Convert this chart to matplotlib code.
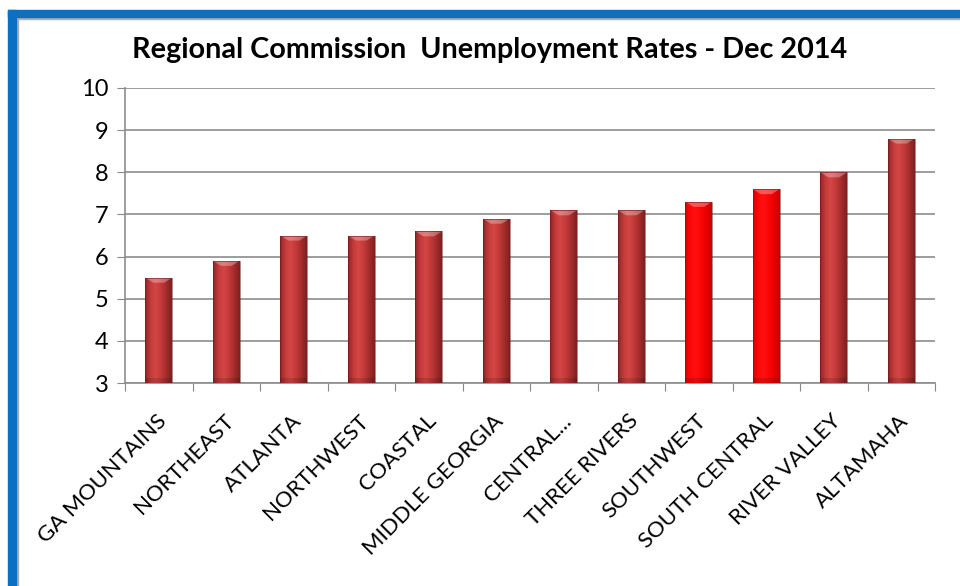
#!/usr/bin/env python3
# -*- coding: utf-8 -*-
"""
Regional Commission unemployment rates, Dec 2014 - bar chart with
shaded (cylinder-like) bars and a blue frame like the office original
"""

import numpy as np
import matplotlib
matplotlib.use('Agg')
import matplotlib.pyplot as plt
from matplotlib.patches import Rectangle
from matplotlib.colors import LinearSegmentedColormap
from matplotlib.transforms import ScaledTranslation

## data
regions = ['GA MOUNTAINS', 'NORTHEAST', 'ATLANTA', 'NORTHWEST', 'COASTAL',
           'MIDDLE GEORGIA', 'CENTRAL...', 'THREE RIVERS', 'SOUTHWEST',
           'SOUTH CENTRAL', 'RIVER VALLEY', 'ALTAMAHA']
rates = [5.5, 5.9, 6.5, 6.5, 6.6, 6.9, 7.1, 7.1, 7.3, 7.6, 8.0, 8.8]
highlight = ['SOUTHWEST', 'SOUTH CENTRAL']
y_ticks = [3, 4, 5, 6, 7, 8, 9, 10]

title = 'Regional Commission  Unemployment Rates - Dec 2014'

## style
plt.rcParams['font.family'] = ['Lato', 'DejaVu Sans']
W, H = 960, 586

# shading maps (left edge -> right edge of a bar)
normal_cmap = LinearSegmentedColormap.from_list(
    'normal', ['#8e2424', '#c43a3a', '#d44646', '#c23838', '#a22c2c', '#7e1f1f'])
bright_cmap = LinearSegmentedColormap.from_list(
    'bright', ['#d80000', '#ff0808', '#ff1010', '#fa0505', '#e80000', '#c80000'])


def px(x, y):
    '''pixel coordinates (from top left) -> figure fraction'''
    return x / W, 1 - y / H


fig = plt.figure(figsize=(W / 100, H / 100), dpi=100)
fig.patch.set_facecolor('white')

# blue frame with a grey inner shadow (only left and top are in view)
fig.patches.append(Rectangle(px(8, H), 8 / W, (H - 10) / H,
                             transform=fig.transFigure, color='#0b6fc4', zorder=5))
fig.patches.append(Rectangle(px(8, 17), (W - 8) / W, 7 / H,
                             transform=fig.transFigure, color='#0b6fc4', zorder=5))
fig.patches.append(Rectangle(px(16, H), 2 / W, (H - 17) / H,
                             transform=fig.transFigure, color='#b0b0b0', zorder=4))
fig.patches.append(Rectangle(px(16, 19), (W - 16) / W, 2 / H,
                             transform=fig.transFigure, color='#b0b0b0', zorder=4))

left, top = px(125, 88)
right, bottom = px(935, 383)
ax = fig.add_axes([left, bottom, right - left, top - bottom])

x = np.arange(len(regions))
bars = ax.bar(x, [r - y_ticks[0] for r in rates], bottom=y_ticks[0],
              width=0.4, color='#c03838', edgecolor='none', zorder=2)

# gradient fill clipped to every bar
grad = np.linspace(0, 1, 256).reshape(1, -1)
for name, bar in zip(regions, bars):
    cmap = bright_cmap if name in highlight else normal_cmap
    x0, y0 = bar.get_x(), bar.get_y()
    bw, bh = bar.get_width(), bar.get_height()
    im = ax.imshow(grad, cmap=cmap, aspect='auto', interpolation='bicubic',
                   extent=(x0, x0 + bw, y0, y0 + bh), zorder=3)
    im.set_clip_path(bar)
    # darker foot and lighter bevel at the top
    ax.fill_between([x0, x0 + bw], y0, y0 + 0.12, color='black',
                    alpha=0.12, lw=0, zorder=4)
    ax.fill([x0, x0 + bw, x0 + bw * 0.7, x0 + bw * 0.3],
            [y0 + bh, y0 + bh, y0 + bh - 0.12, y0 + bh - 0.12],
            color='white', alpha=0.3, lw=0, zorder=4)
    # thin dark outline
    ax.add_patch(Rectangle((x0, y0), bw, bh, fill=False,
                           ec='#6a1818', lw=0.6, alpha=0.6, zorder=5))

ax.set_xlim(-0.5, len(regions) - 0.5)
ax.set_ylim(y_ticks[0], y_ticks[-1])
ax.set_yticks(y_ticks)
ax.set_yticklabels([str(t) for t in y_ticks], fontsize=17)
ax.set_xticks(np.arange(len(regions) + 1) - 0.5, minor=False)
ax.set_xticklabels([])
ax.set_xticks(x, minor=True)
ax.set_xticklabels(regions, minor=True, rotation=45, ha='right',
                   va='top', rotation_mode='anchor', fontsize=16)
ax.tick_params(axis='x', which='minor', length=0, pad=20)
ax.tick_params(axis='x', which='major', length=6, color='#888888')
ax.tick_params(axis='y', length=6, color='#888888', pad=6)

# nudge the slanted labels so their ends sit just right of the bar centre
shift = ScaledTranslation(-2 / 72, 0, fig.dpi_scale_trans)
for lbl in ax.get_xticklabels(minor=True):
    lbl.set_transform(lbl.get_transform() + shift)

ax.grid(axis='y', color='#8c8c8c', lw=1.2, zorder=0)
ax.set_axisbelow(True)
for side in ['top', 'right']:
    ax.spines[side].set_visible(False)
for side in ['left', 'bottom']:
    ax.spines[side].set_color('#8c8c8c')
    ax.spines[side].set_linewidth(1.2)

tx, ty = px(490, 50)
fig.text(tx, ty, title, ha='center', va='center', fontsize=20.7,
         fontweight='bold')

fig.savefig('out.png', dpi=100)
